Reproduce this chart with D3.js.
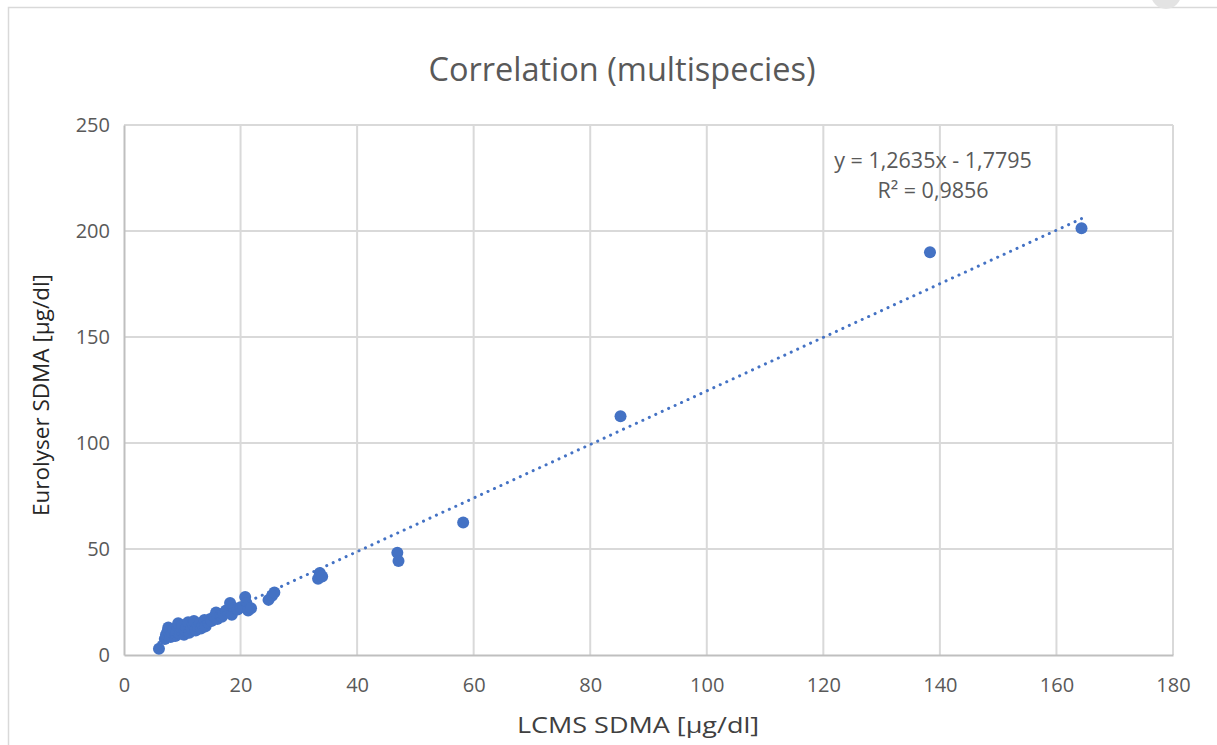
<!DOCTYPE html>
<html>
<head>
<meta charset="utf-8">
<script src="https://cdn.jsdelivr.net/npm/d3@7"></script>
<style>
  html, body { margin: 0; padding: 0; background: #fff; }
  svg { display: block; }
  text { font-family: "Open Sans", "Noto Sans", sans-serif; }
</style>
</head>
<body>
<svg id="chart" width="1217" height="745"></svg>
<script>
// LCMS SDMA values (µg/dl)
const lcms = [6.0, 7.0, 7.2, 7.5, 7.6, 8.0, 8.2, 8.5, 8.8, 9.0, 9.2, 9.3, 9.6, 9.8, 10.0,
  10.3, 10.5, 10.7, 11.0, 11.2, 11.5, 11.8, 12.0, 12.3, 12.6, 13.0, 13.2, 13.5, 13.8, 14.0,
  14.4, 14.8, 15.0, 15.5, 15.8, 16.0, 16.5, 16.8, 17.0, 17.5, 18.2, 18.5, 19.0, 19.5, 20.0,
  20.8, 21.0, 21.3, 21.8, 24.8, 25.4, 25.8, 33.3, 33.6, 34.0, 46.9, 47.1, 58.2, 85.2, 138.3, 164.3];
// Eurolyser SDMA values (µg/dl)
const eurolyser = [3.0, 7.5, 9.5, 11.5, 13.0, 8.5, 10.5, 12.0, 9.0, 11.0, 13.5, 15.0, 10.0, 12.5, 14.0,
  9.5, 11.5, 13.0, 15.5, 10.5, 12.5, 14.5, 16.0, 11.5, 13.5, 15.0, 12.5, 14.0, 16.5, 13.5,
  15.5, 17.0, 16.0, 18.0, 20.0, 17.0, 18.5, 18.0, 19.5, 21.0, 24.5, 19.0, 22.0, 21.5, 22.5,
  27.4, 24.5, 21.0, 22.0, 26.0, 28.0, 29.5, 36.0, 38.7, 37.0, 48.2, 44.3, 62.5, 112.6, 190.0, 201.3];

// Linear trend fitted to the series
const slope = 1.2635;
const intercept = -1.7795;
const equationLabel = "y = 1,2635x - 1,7795";
const r2Label = "R² = 0,9856";

const xTicks = [0, 20, 40, 60, 80, 100, 120, 140, 160, 180];
const yTicks = [0, 50, 100, 150, 200, 250];

const title = "Correlation (multispecies)";
const xTitle = "LCMS SDMA [µg/dl]";
const yTitle = "Eurolyser SDMA [µg/dl]";

const points = lcms.map((v, i) => ({ x: v, y: eurolyser[i] }));

const svg = d3.select("#chart");
const plot = { left: 124, right: 1173, top: 125, bottom: 655 };

const x = d3.scaleLinear().domain([0, 180]).range([plot.left, plot.right]);
const y = d3.scaleLinear().domain([0, 250]).range([plot.bottom, plot.top]);

// Chart frame
svg.append("rect")
  .attr("x", 8.5).attr("y", 7.5)
  .attr("width", 1230).attr("height", 760)
  .attr("fill", "#fff").attr("stroke", "#d9d9d9").attr("stroke-width", 1.5);

svg.append("circle")
  .attr("cx", 1166).attr("cy", -6).attr("r", 15)
  .attr("fill", "#e3e3e3");

// Title
svg.append("text")
  .attr("x", 622).attr("y", 81)
  .attr("text-anchor", "middle")
  .attr("font-size", 32.5)
  .attr("fill", "#595959")
  .text(title);

// Gridlines
const grid = svg.append("g");
grid.selectAll("line.h").data(yTicks.filter(d => d > 0)).join("line")
  .attr("x1", plot.left).attr("x2", plot.right)
  .attr("y1", d => y(d)).attr("y2", d => y(d))
  .attr("stroke", "#d9d9d9").attr("stroke-width", 2);
grid.selectAll("line.v").data(xTicks.filter(d => d > 0)).join("line")
  .attr("x1", d => x(d)).attr("x2", d => x(d))
  .attr("y1", plot.top).attr("y2", plot.bottom)
  .attr("stroke", "#d9d9d9").attr("stroke-width", 2);

// Axes
const xAxis = svg.append("g")
  .attr("transform", `translate(0,${plot.bottom})`)
  .call(d3.axisBottom(x).tickValues(xTicks).tickSize(0).tickPadding(23));
xAxis.select(".domain").attr("stroke", "#bfbfbf").attr("stroke-width", 2);
xAxis.selectAll("text").attr("font-size", 20).attr("fill", "#595959")
  .attr("font-family", "'Open Sans', sans-serif");

const yAxis = svg.append("g")
  .attr("transform", `translate(${plot.left},0)`)
  .call(d3.axisLeft(y).tickValues(yTicks).tickSize(0).tickPadding(14));
yAxis.select(".domain").attr("stroke", "#bfbfbf").attr("stroke-width", 2);
yAxis.selectAll("text").attr("font-size", 20).attr("fill", "#595959")
  .attr("font-family", "'Open Sans', sans-serif");

// Axis titles
svg.append("text")
  .attr("transform", "translate(638,733) scale(1.2,1)")
  .attr("text-anchor", "middle")
  .attr("font-size", 22.5)
  .attr("fill", "#404040")
  .text(xTitle);

svg.append("text")
  .attr("transform", `translate(49,${(plot.top + plot.bottom) / 2 + 5}) rotate(-90)`)
  .attr("text-anchor", "middle")
  .attr("font-size", 22.5)
  .attr("fill", "#262626")
  .text(yTitle);

// Points
svg.append("g").selectAll("circle").data(points).join("circle")
  .attr("cx", d => x(d.x)).attr("cy", d => y(d.y))
  .attr("r", 6)
  .attr("fill", "#4472c4");

// Dotted trendline over the data range
const xMin = d3.min(lcms), xMax = d3.max(lcms);
svg.append("line")
  .attr("x1", x(xMin)).attr("y1", y(slope * xMin + intercept))
  .attr("x2", x(xMax)).attr("y2", y(slope * xMax + intercept))
  .attr("stroke", "#4472c4").attr("stroke-width", 3)
  .attr("stroke-linecap", "round")
  .attr("stroke-dasharray", "0.1 7");

// Equation and R²
svg.append("text")
  .attr("x", 933).attr("y", 168)
  .attr("text-anchor", "middle")
  .attr("font-size", 21.5).attr("fill", "#595959")
  .text(equationLabel);
svg.append("text")
  .attr("x", 933).attr("y", 198)
  .attr("text-anchor", "middle")
  .attr("font-size", 21.5).attr("fill", "#595959")
  .text(r2Label);
</script>
</body>
</html>
